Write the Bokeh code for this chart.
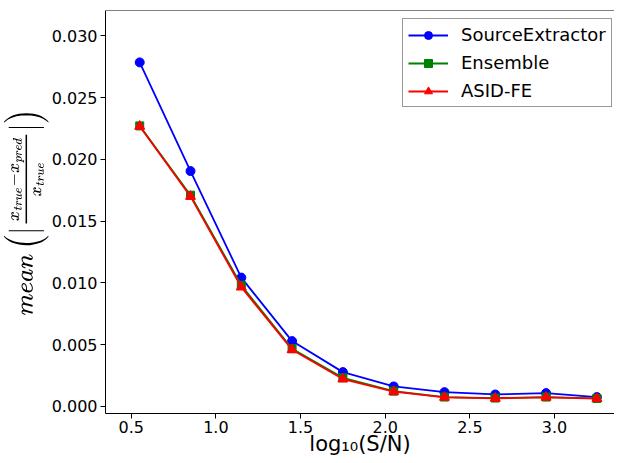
from bokeh.plotting import figure
from bokeh.models import Range1d, FixedTicker, Span, Legend, LegendItem, ColumnDataSource
from bokeh.embed import file_html
from bokeh.resources import INLINE

log_sn = [0.55, 0.85, 1.15, 1.45, 1.75, 2.05, 2.35, 2.65, 2.95, 3.25]
source_extractor = [0.02785, 0.01905, 0.01043, 0.00529, 0.00278, 0.00162, 0.00116, 0.00097, 0.00108, 0.00076]
ensemble = [0.02271, 0.01710, 0.00981, 0.00467, 0.00232, 0.00124, 0.00076, 0.00068, 0.00076, 0.00065]
asid_fe = [0.02268, 0.01700, 0.00966, 0.00459, 0.00222, 0.00120, 0.00074, 0.00066, 0.00074, 0.00064]

x_ticks = [0.5, 1.0, 1.5, 2.0, 2.5, 3.0]
y_ticks = [0.000, 0.005, 0.010, 0.015, 0.020, 0.025, 0.030]

FONT = "DejaVu Sans"

p = figure(width=614, height=460, output_backend="svg", toolbar_location=None,
           x_range=Range1d(0.348, 3.354), y_range=Range1d(-0.00057, 0.03205),
           min_border_left=100, min_border_right=0, min_border_top=10, min_border_bottom=47)
p.grid.visible = False
p.outline_line_color = None
p.background_fill_color = "white"
p.border_fill_color = "white"

for ax in (p.xaxis[0], p.yaxis[0]):
    ax.major_label_text_font = FONT
    ax.major_label_text_font_size = "16px"
    ax.major_label_text_color = "black"
    ax.axis_line_color = "black"
    ax.major_tick_line_color = "black"
    ax.minor_tick_line_color = None
    ax.major_tick_in = 0
    ax.major_tick_out = 5

p.xaxis.ticker = FixedTicker(ticks=x_ticks)
p.yaxis.ticker = FixedTicker(ticks=y_ticks)
p.xaxis.major_label_overrides = {t: f"{t:.1f}" for t in x_ticks}
p.yaxis.major_label_overrides = {t: f"{t:.3f}" for t in y_ticks}
p.xaxis.major_label_standoff = 2
p.yaxis.major_label_standoff = 3

p.xaxis.axis_label = "log\u2081\u2080(S/N)"
p.xaxis.axis_label_text_font = FONT
p.xaxis.axis_label_text_font_style = "normal"
p.xaxis.axis_label_text_font_size = "21px"
p.xaxis.axis_label_text_color = "black"
p.xaxis.axis_label_standoff = -4

p.yaxis.axis_label = r"$$mean\left(\left|\tfrac{x_{true}-x_{pred}}{x_{true}}\right|\right)$$"
p.yaxis.axis_label_text_font_size = "21px"
p.yaxis.axis_label_text_color = "black"
p.yaxis.axis_label_standoff = 0

p.add_layout(Span(location=0.03205, dimension="width", line_color="black", line_width=1))

series = [
    ("SourceExtractor", source_extractor, "#0000ff", "circle", 9),
    ("Ensemble", ensemble, "#008000", "square", 8),
    ("ASID-FE", asid_fe, "#ff0000", "triangle", 10),
]
items = []
for name, vals, color, marker, size in series:
    src = ColumnDataSource(dict(x=log_sn, y=vals))
    l = p.line("x", "y", source=src, line_color=color, line_width=1.8)
    s = p.scatter("x", "y", source=src, marker=marker, size=size,
                  fill_color=color, line_color=color)
    items.append(LegendItem(label=name, renderers=[l, s]))

legend = Legend(items=items, location=(297, 306), orientation="vertical",
                label_text_font=FONT, label_text_font_size="18px", label_text_color="black",
                glyph_width=40, glyph_height=20, label_height=20, label_standoff=13,
                spacing=7, padding=5, margin=0,
                border_line_color="#333333", border_line_width=1,
                background_fill_color="white", background_fill_alpha=1.0)
p.add_layout(legend, "center")

open("out.html", "w").write(file_html(p, INLINE))
